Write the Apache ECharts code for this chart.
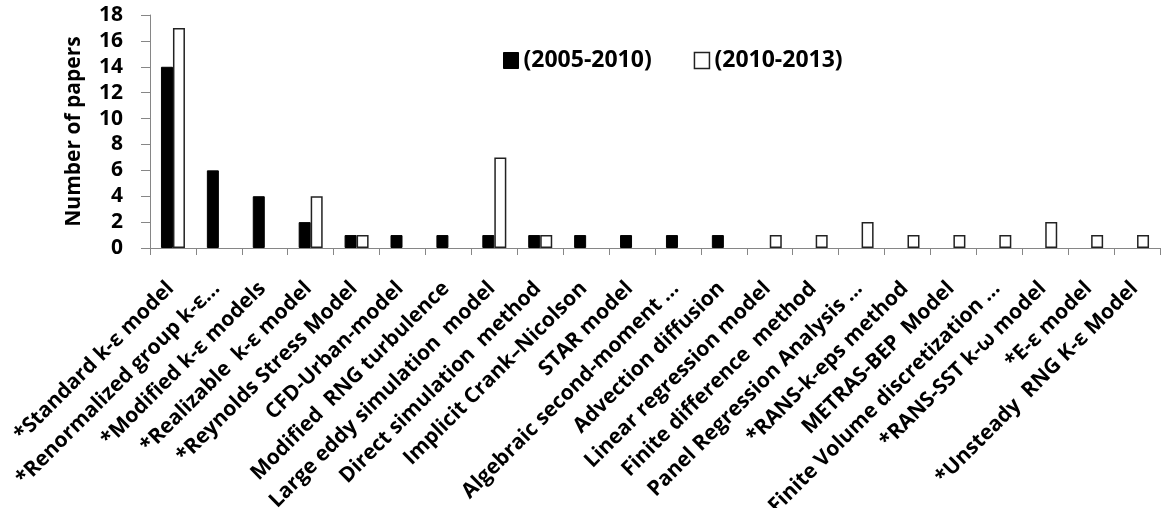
<!DOCTYPE html>
<html>
<head>
<meta charset="utf-8">
<script src="https://cdn.jsdelivr.net/npm/echarts@6/dist/echarts.min.js"></script>
<style>
html,body{margin:0;padding:0;background:#fff;}
#chart{width:1165px;height:508px;}
</style>
</head>
<body>
<div id="chart"></div>
<script>
const categories = [
  "*Standard k-ε model",
  "*Renormalized group k-ε...",
  "*Modified k-ε models",
  "*Realizable  k-ε model",
  "*Reynolds Stress Model",
  "CFD-Urban-model",
  "Modified  RNG turbulence",
  "Large eddy simulation  model",
  "Direct simulation  method",
  "Implicit Crank–Nicolson",
  "STAR model",
  "Algebraic second-moment ...",
  "Advection diffusion",
  "Linear regression model",
  "Finite difference  method",
  "Panel Regression Analysis ...",
  "*RANS-k-eps method",
  "METRAS-BEP  Model",
  "Finite Volume discretization ...",
  "*RANS-SST k-ω model",
  "*E-ε model",
  "*Unsteady  RNG K-ε Model"
];
const series2005_2010 = [14, 6, 4, 2, 1, 1, 1, 1, 1, 1, 1, 1, 1, 0, 0, 0, 0, 0, 0, 0, 0, 0];
const series2010_2013 = [17, 0, 0, 4, 1, 0, 0, 7, 1, 0, 0, 0, 0, 1, 1, 2, 1, 1, 1, 2, 1, 1];
const seriesNames = ["(2005-2010)", "(2010-2013)"];
const yTicks = { min: 0, max: 18, interval: 2 };

const FONT = "'Open Sans'";
const noZero = arr => arr.map(v => (v === 0 ? '-' : v));
const chart = echarts.init(document.getElementById('chart'), null, {renderer: 'canvas'});
chart.setOption({
  animation: false,
  backgroundColor: '#fff',
  textStyle: { fontFamily: FONT, color: '#000' },
  legend: {
    left: 498, top: 44,
    icon: 'rect',
    itemWidth: 15, itemHeight: 16,
    itemGap: 42,
    textStyle: { fontFamily: FONT, fontWeight: 'bold', fontSize: 23, color: '#000' },
    data: [
      { name: seriesNames[0], itemStyle: { color: '#000', borderColor: '#000', borderWidth: 1 } },
      { name: seriesNames[1], itemStyle: { color: '#fff', borderColor: '#222', borderWidth: 1.5 } }
    ]
  },
  grid: { left: 150, right: 5, top: 15, bottom: 260, containLabel: false, outerBoundsMode: 'none' },
  xAxis: {
    type: 'category',
    data: categories,
    axisLine: { lineStyle: { color: '#868686', width: 1 } },
    axisTick: { show: true, length: 7, lineStyle: { color: '#868686' } },
    axisLabel: {
      interval: 0, rotate: 45, margin: 20,
      align: 'right', verticalAlign: 'top',
      padding: [0, 14, 0, 0],
      fontFamily: FONT, fontWeight: 'bold', fontSize: 21, color: '#000'
    }
  },
  yAxis: {
    type: 'value',
    min: yTicks.min, max: yTicks.max, interval: yTicks.interval,
    name: 'Number of papers',
    nameLocation: 'middle', nameRotate: 90, nameGap: 65,
    nameTextStyle: { fontFamily: FONT, fontWeight: 'bold', fontSize: 21, color: '#000' },
    axisLine: { show: true, lineStyle: { color: '#868686', width: 1 } },
    axisTick: { show: true, length: 9, lineStyle: { color: '#868686' } },
    splitLine: { show: false },
    axisLabel: { fontFamily: FONT, fontWeight: 'bold', fontSize: 21, color: '#000', margin: 27 }
  },
  series: [
    {
      name: seriesNames[0], type: 'bar', data: noZero(series2005_2010),
      barWidth: 12, barGap: '0%',
      itemStyle: { color: '#000', borderColor: '#000', borderWidth: 1 }
    },
    {
      name: seriesNames[1], type: 'bar', data: noZero(series2010_2013),
      barWidth: 12, barGap: '0%',
      itemStyle: { color: '#fff', borderColor: '#222', borderWidth: 1.5 }
    }
  ]
});
</script>
</body>
</html>
